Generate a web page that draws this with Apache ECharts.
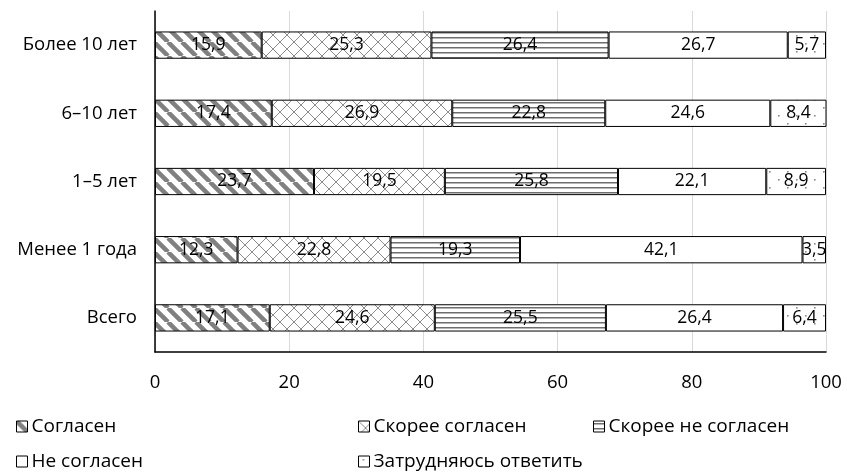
<!DOCTYPE html>
<html><head><meta charset="utf-8">
<script src="https://cdn.jsdelivr.net/npm/echarts@6/dist/echarts.min.js"></script>
<style>html,body{margin:0;padding:0;background:#fff}#c{width:847px;height:475px}</style>
</head><body><div id="c"></div>
<script>
var categories = ['Всего', 'Менее 1 года', '1–5 лет', '6–10 лет', 'Более 10 лет'];
var seriesNames = ['Согласен', 'Скорее согласен', 'Скорее не согласен', 'Не согласен', 'Затрудняюсь ответить'];
var agree = [17.1, 12.3, 23.7, 17.4, 15.9];
var ratherAgree = [24.6, 22.8, 19.5, 26.9, 25.3];
var ratherDisagree = [25.5, 19.3, 25.8, 22.8, 26.4];
var disagree = [26.4, 42.1, 22.1, 24.6, 26.7];
var hardToSay = [6.4, 3.5, 8.9, 8.4, 5.7];
var xTicks = [0, 20, 40, 60, 80, 100];

function tile(w, h, draw) {
  var c = document.createElement('canvas');
  c.width = w; c.height = h;
  var g = c.getContext('2d');
  g.fillStyle = '#fff'; g.fillRect(0, 0, w, h);
  draw(g, w, h);
  return { image: c, repeat: 'repeat' };
}
var pStripes = tile(14, 14, function (g, s) {
  g.strokeStyle = '#808080'; g.lineWidth = 4.5;
  [-s, 0, s].forEach(function (o) { g.beginPath(); g.moveTo(o, 0); g.lineTo(o + s, s); g.stroke(); });
});
var pCross = tile(14, 14, function (g, s) {
  g.strokeStyle = '#8c8c8c'; g.lineWidth = 1;
  g.beginPath(); g.moveTo(0, 0); g.lineTo(s, s); g.stroke();
  g.beginPath(); g.moveTo(s, 0); g.lineTo(0, s); g.stroke();
});
var pHoriz = tile(4, 5, function (g, w, h) {
  g.fillStyle = '#6e6e6e'; g.fillRect(0, 2, w, 1.5);
});
var pNone = '#ffffff';
var pDots = tile(18, 16, function (g) {
  g.fillStyle = '#8a8a8a';
  g.fillRect(4, 3, 1.6, 1.6);
  g.fillRect(13, 11, 1.6, 1.6);
});

var values = [agree, ratherAgree, ratherDisagree, disagree, hardToSay];
var fills = [pStripes, pCross, pHoriz, pNone, pDots];
var FONT = '"Open Sans", "Noto Sans", sans-serif';

var series = seriesNames.map(function (n, i) {
  return {
    name: n, type: 'bar', stack: 'all', data: values[i],
    barWidth: '40%',
    itemStyle: { color: fills[i], borderColor: '#000', borderWidth: 1 },
    label: {
      show: true, position: 'inside', color: '#000', fontSize: 17.5, fontFamily: FONT,
      formatter: function (p) { return String(p.value).replace('.', ','); }
    },
    emphasis: { disabled: true },
    animation: false
  };
});

var legPos = [[16, 417], [358, 417], [593, 417], [16, 452], [358, 452]];
var legends = seriesNames.map(function (n, i) {
  return {
    data: [n], left: legPos[i][0], top: legPos[i][1], icon: 'rect', padding: 0,
    itemWidth: 11, itemHeight: 11, itemGap: 4,
    textStyle: { fontSize: 19, fontFamily: FONT, color: '#000', padding: [0, 0, 0, -1] },
    selectedMode: false,
    itemStyle: { borderColor: '#000', borderWidth: 1 }
  };
});

var chart = echarts.init(document.getElementById('c'), null, { renderer: 'canvas' });
chart.setOption({
  animation: false,
  grid: { left: 155, right: 21, top: 11, bottom: 123, containLabel: false },
  legend: legends,
  xAxis: {
    type: 'value', min: 0, max: 100, interval: 20,
    axisLine: { show: true, lineStyle: { color: '#000', width: 1.5 } },
    axisTick: { show: false },
    splitLine: { show: true, lineStyle: { color: '#d9d9d9', width: 1 } },
    axisLabel: {
      margin: 21, fontSize: 18.5, fontFamily: FONT, color: '#000',
      formatter: function (v) { return xTicks.indexOf(v) >= 0 ? String(v) : ''; }
    }
  },
  yAxis: {
    type: 'category', data: categories,
    axisLine: { show: true, lineStyle: { color: '#000', width: 1.5 } },
    axisTick: { show: false },
    axisLabel: { margin: 18, fontSize: 18.5, fontFamily: FONT, color: '#000' }
  },
  series: series
});
</script></body></html>
